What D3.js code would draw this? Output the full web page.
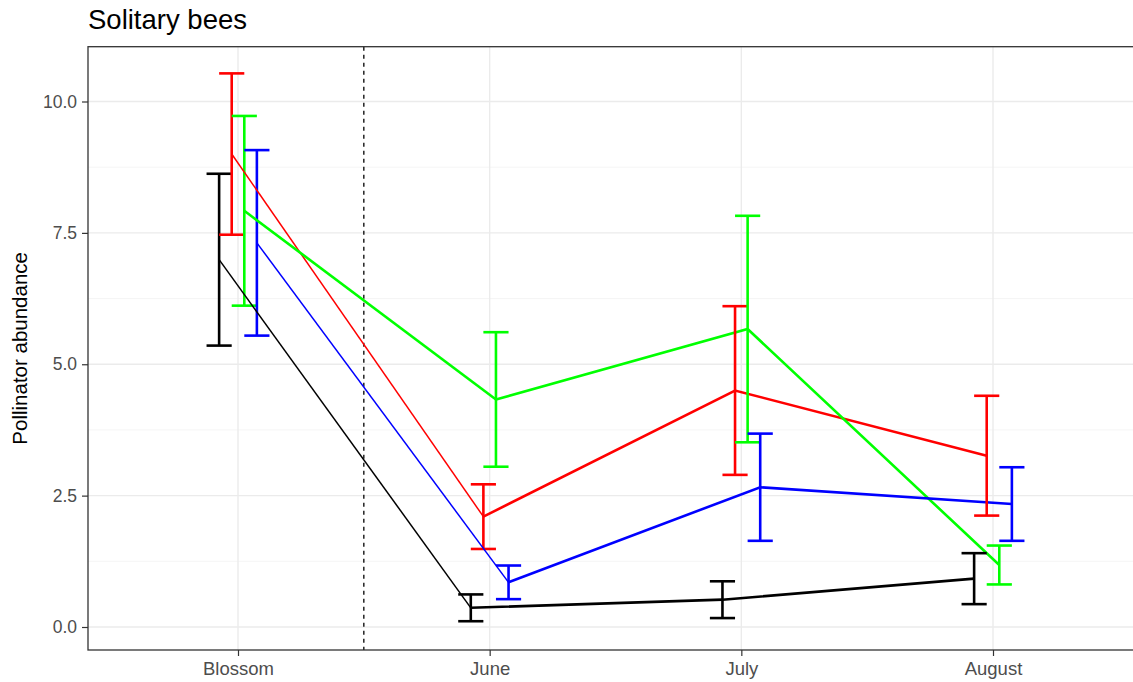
<!DOCTYPE html>
<html>
<head>
<meta charset="utf-8">
<script src="https://cdn.jsdelivr.net/npm/d3@7"></script>
<style>
  body { margin: 0; background: #fff; }
  svg { display: block; font-family: "Liberation Sans", Arial, sans-serif; }
</style>
</head>
<body>
<svg id="chart" width="1133" height="682"></svg>
<script>
// Sampling periods along the x axis
const periods = ["Blossom", "June", "July", "August"];

// Series keys (one per treatment line) and their colours
const seriesKeys = ["black", "red", "green", "blue"];
const seriesColors = ["#000000", "#FF0000", "#00FF00", "#0000FF"];

// Mean pollinator abundance per period
const meanBlack = [6.99, 0.365, 0.52, 0.92];
const meanRed   = [9.00, 2.10, 4.50, 3.26];
const meanGreen = [7.92, 4.33, 5.67, 1.18];
const meanBlue  = [7.31, 0.85, 2.66, 2.34];

// Error half-widths per period
const errBlack = [1.635, 0.255, 0.35, 0.485];
const errRed   = [1.535, 0.615, 1.605, 1.14];
const errGreen = [1.805, 1.28, 2.155, 0.37];
const errBlue  = [1.765, 0.32, 1.02, 0.70];

// Y axis ticks
const yTicks = [0, 2.5, 5, 7.5, 10];
const yMinor = [1.25, 3.75, 6.25, 8.75];

const means = [meanBlack, meanRed, meanGreen, meanBlue];
const errs = [errBlack, errRed, errGreen, errBlue];

const series = seriesKeys.map((k, s) => ({
  key: k,
  color: seriesColors[s],
  points: periods.map((p, i) => ({ i, mean: means[s][i], err: errs[s][i] }))
}));

const svg = d3.select("#chart");

// Panel geometry
const panel = { left: 88, top: 46.7, right: 1146, bottom: 650 };

const x = d3.scaleLinear().domain([0, 3]).range([238, 993]);
const y = d3.scaleLinear().domain([0, 10]).range([627, 101.5]);

// Dodge within each period
const dodge = d3.scaleBand().domain(seriesKeys).range([-0.1, 0.1]);
const xd = (i, key) => x(i + dodge(key) + dodge.bandwidth() / 2);

const capHalf = 0.05;
const thick = 2.6;

// Panel background + grid
const g = svg.append("g");
g.append("rect")
  .attr("x", panel.left).attr("y", panel.top)
  .attr("width", panel.right - panel.left).attr("height", panel.bottom - panel.top)
  .attr("fill", "#fff");

g.selectAll(".yminor").data(yMinor).join("line")
  .attr("x1", panel.left).attr("x2", panel.right)
  .attr("y1", d => y(d)).attr("y2", d => y(d))
  .attr("stroke", "#F2F2F2").attr("stroke-width", 0.8);

g.selectAll(".ymajor").data(yTicks).join("line")
  .attr("x1", panel.left).attr("x2", panel.right)
  .attr("y1", d => y(d)).attr("y2", d => y(d))
  .attr("stroke", "#EBEBEB").attr("stroke-width", 1.4);

g.selectAll(".xmajor").data(periods).join("line")
  .attr("x1", (d, i) => x(i)).attr("x2", (d, i) => x(i))
  .attr("y1", panel.top).attr("y2", panel.bottom)
  .attr("stroke", "#EBEBEB").attr("stroke-width", 1.4);

// Dashed separator between blossom and the summer months
g.append("line")
  .attr("x1", x(0.5)).attr("x2", x(0.5))
  .attr("y1", panel.top).attr("y2", panel.bottom)
  .attr("stroke", "#000").attr("stroke-width", 1.3)
  .attr("stroke-dasharray", "4,4");

// Lines: June → August (thick)
const line = d3.line()
  .x(d => xd(d.i, d.key))
  .y(d => y(d.mean));

series.forEach(s => {
  const pts = s.points.map(p => ({ ...p, key: s.key }));
  g.append("path")
    .attr("d", line(pts.slice(1)))
    .attr("fill", "none").attr("stroke", s.color).attr("stroke-width", thick);
});

// Error bars
series.forEach(s => {
  const eg = g.append("g").attr("stroke", s.color).attr("stroke-width", thick).attr("fill", "none");
  s.points.forEach(p => {
    const cx = xd(p.i, s.key);
    const hi = y(p.mean + p.err), lo = y(p.mean - p.err);
    const c = p.i + dodge(s.key) + dodge.bandwidth() / 2;
    const l = x(c - capHalf), r = x(c + capHalf);
    eg.append("line").attr("x1", cx).attr("x2", cx).attr("y1", hi).attr("y2", lo);
    eg.append("line").attr("x1", l).attr("x2", r).attr("y1", hi).attr("y2", hi);
    eg.append("line").attr("x1", l).attr("x2", r).attr("y1", lo).attr("y2", lo);
  });
});

// Lines: Blossom → June
series.forEach(s => {
  const pts = s.points.map(p => ({ ...p, key: s.key }));
  g.append("path")
    .attr("d", line(pts.slice(0, 2)))
    .attr("fill", "none").attr("stroke", s.color)
    .attr("stroke-width", s.key === "green" ? thick : 1.5);
});

// Panel border
g.append("rect")
  .attr("x", panel.left).attr("y", panel.top)
  .attr("width", panel.right - panel.left).attr("height", panel.bottom - panel.top)
  .attr("fill", "none").attr("stroke", "#333333").attr("stroke-width", 1.3);

// Y axis
const yAxis = d3.axisLeft(y).tickValues(yTicks).tickFormat(d3.format(".1f")).tickSize(6).tickPadding(5);
const ya = svg.append("g").attr("transform", `translate(${panel.left},0)`).call(yAxis);
ya.select(".domain").remove();
ya.selectAll(".tick line").attr("stroke", "#333333").attr("stroke-width", 1.2);
ya.selectAll(".tick text").attr("fill", "#4D4D4D").style("font-size", "17.5px")
  .style("font-family", "'Liberation Sans', Arial, sans-serif");

// X axis
const xAxis = d3.axisBottom(x).tickValues([0, 1, 2, 3]).tickFormat(i => periods[i]).tickSize(6).tickPadding(6);
const xa = svg.append("g").attr("transform", `translate(0,${panel.bottom})`).call(xAxis);
xa.select(".domain").remove();
xa.selectAll(".tick line").attr("stroke", "#333333").attr("stroke-width", 1.2);
xa.selectAll(".tick text").attr("fill", "#4D4D4D").style("font-size", "18.5px")
  .style("font-family", "'Liberation Sans', Arial, sans-serif");

// Axis title
svg.append("text")
  .attr("transform", `translate(27,${(panel.top + panel.bottom) / 2}) rotate(-90)`)
  .attr("text-anchor", "middle")
  .attr("fill", "#000").style("font-size", "20.5px")
  .text("Pollinator abundance");

// Title
svg.append("text")
  .attr("x", panel.left).attr("y", 29)
  .attr("fill", "#000").style("font-size", "27.5px")
  .text("Solitary bees");
</script>
</body>
</html>
